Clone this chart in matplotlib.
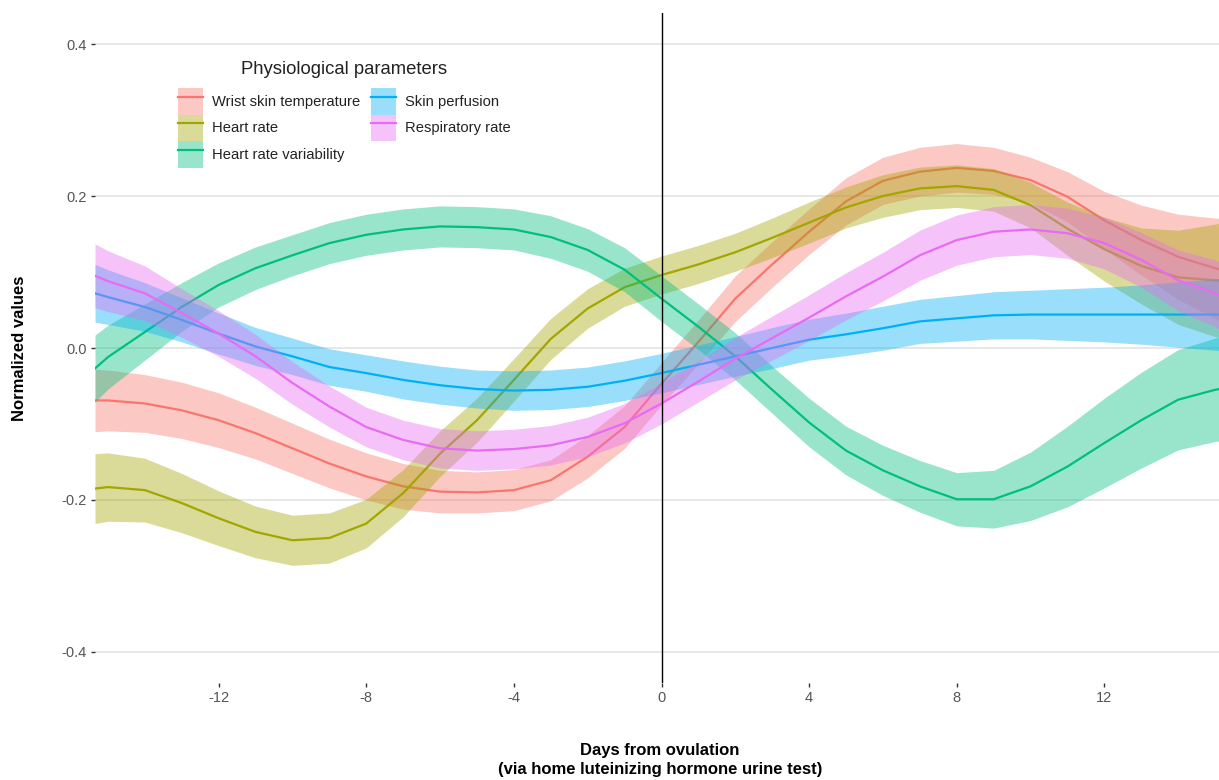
import matplotlib
matplotlib.use("Agg")
import matplotlib.pyplot as plt
from matplotlib.patches import Patch
from matplotlib.lines import Line2D

plt.rcParams['font.family'] = ['Liberation Sans', 'DejaVu Sans']

# ---------------- data ----------------
days = [-15.35, -15, -14, -13, -12, -11, -10, -9, -8, -7, -6, -5, -4, -3, -2, -1, 0,
        1, 2, 3, 4, 5, 6, 7, 8, 9, 10, 11, 12, 13, 14, 15, 15.35]

series_names = ["Wrist skin temperature", "Heart rate", "Heart rate variability",
                "Skin perfusion", "Respiratory rate"]
legend_title = "Physiological parameters"

wrist_temp = [-0.069, -0.069, -0.073, -0.082, -0.095, -0.112, -0.132, -0.152, -0.169, -0.182,
              -0.189, -0.190, -0.187, -0.174, -0.143, -0.104, -0.047, 0.008, 0.065, 0.110,
              0.153, 0.193, 0.220, 0.232, 0.237, 0.233, 0.221, 0.199, 0.168, 0.142, 0.120,
              0.105, 0.100]
wrist_temp_hw = [0.041, 0.040, 0.038, 0.037, 0.036, 0.034, 0.033, 0.032, 0.031, 0.030, 0.028,
                 0.027, 0.027, 0.027, 0.028, 0.028, 0.028, 0.029, 0.030, 0.030, 0.030, 0.031,
                 0.031, 0.032, 0.032, 0.031, 0.030, 0.033, 0.038, 0.046, 0.056, 0.066, 0.070]

heart_rate = [-0.185, -0.183, -0.187, -0.204, -0.224, -0.242, -0.253, -0.250, -0.231, -0.191,
              -0.139, -0.095, -0.042, 0.012, 0.052, 0.080, 0.096, 0.110, 0.126, 0.145,
              0.165, 0.185, 0.200, 0.210, 0.213, 0.208, 0.188, 0.157, 0.130, 0.108, 0.093,
              0.089, 0.089]
heart_rate_hw = [0.046, 0.045, 0.042, 0.039, 0.036, 0.034, 0.033, 0.033, 0.032, 0.031, 0.030,
                 0.029, 0.028, 0.027, 0.026, 0.025, 0.025, 0.025, 0.025, 0.026, 0.027, 0.027,
                 0.028, 0.028, 0.028, 0.028, 0.030, 0.035, 0.042, 0.050, 0.062, 0.074, 0.078]

hrv = [-0.027, -0.012, 0.021, 0.054, 0.083, 0.105, 0.122, 0.138, 0.149, 0.156, 0.160, 0.159,
       0.156, 0.146, 0.129, 0.103, 0.065, 0.028, -0.011, -0.055, -0.098, -0.135, -0.161,
       -0.182, -0.199, -0.199, -0.182, -0.156, -0.125, -0.095, -0.068, -0.055, -0.052]
hrv_hw = [0.044, 0.042, 0.037, 0.032, 0.029, 0.028, 0.027, 0.027, 0.027, 0.027, 0.027, 0.027,
          0.027, 0.028, 0.028, 0.029, 0.030, 0.030, 0.031, 0.031, 0.032, 0.032, 0.033, 0.034,
          0.035, 0.038, 0.045, 0.053, 0.059, 0.063, 0.066, 0.068, 0.069]

skin_perfusion = [0.072, 0.067, 0.054, 0.037, 0.019, 0.002, -0.011, -0.025, -0.033, -0.042,
                  -0.049, -0.054, -0.056, -0.055, -0.051, -0.043, -0.033, -0.022, -0.011,
                  0.000, 0.011, 0.018, 0.026, 0.035, 0.039, 0.043, 0.044, 0.044, 0.044, 0.044,
                  0.044, 0.044, 0.044]
skin_perfusion_hw = [0.038, 0.036, 0.032, 0.029, 0.027, 0.025, 0.024, 0.024, 0.024, 0.025,
                     0.025, 0.025, 0.026, 0.026, 0.026, 0.026, 0.026, 0.026, 0.026, 0.027,
                     0.027, 0.028, 0.029, 0.029, 0.030, 0.031, 0.032, 0.034, 0.036, 0.039,
                     0.043, 0.047, 0.048]

resp_rate = [0.095, 0.088, 0.072, 0.046, 0.019, -0.011, -0.046, -0.077, -0.104, -0.121, -0.132,
             -0.135, -0.133, -0.128, -0.117, -0.099, -0.073, -0.044, -0.014, 0.013, 0.040,
             0.068, 0.094, 0.122, 0.142, 0.153, 0.156, 0.151, 0.138, 0.116, 0.089, 0.072, 0.065]
resp_rate_hw = [0.042, 0.040, 0.036, 0.032, 0.030, 0.029, 0.028, 0.027, 0.026, 0.026, 0.026,
                0.026, 0.026, 0.026, 0.026, 0.026, 0.027, 0.027, 0.028, 0.029, 0.030, 0.031,
                0.032, 0.033, 0.033, 0.033, 0.033, 0.033, 0.034, 0.036, 0.040, 0.044, 0.045]

colors = ["#F8766D", "#A3A500", "#00BF7D", "#00B0F6", "#E76BF3"]

x_ticks = [-12, -8, -4, 0, 4, 8, 12]
y_ticks = [-0.4, -0.2, 0.0, 0.2, 0.4]
y_ticklabels = ["-0.4", "-0.2", "0.0", "0.2", "0.4"]

# ---------------- figure ----------------
W, H = 1219, 780
fig = plt.figure(figsize=(W / 100, H / 100), dpi=100)
px_left, px_right, px_top, px_bottom = 95, 1228, 13, 683
ax = fig.add_axes([px_left / W, 1 - px_bottom / H, (px_right - px_left) / W,
                   (px_bottom - px_top) / H])

all_vals = [wrist_temp, heart_rate, hrv, skin_perfusion, resp_rate]
all_hw = [wrist_temp_hw, heart_rate_hw, hrv_hw, skin_perfusion_hw, resp_rate_hw]

z = 3
for vals, hw, col in zip(all_vals, all_hw, colors):
    lo = [v - h for v, h in zip(vals, hw)]
    hi = [v + h for v, h in zip(vals, hw)]
    ax.fill_between(days, lo, hi, color=col, alpha=0.4, linewidth=0, zorder=z)
    ax.plot(days, vals, color=col, lw=1.6, zorder=z + 1, solid_joinstyle='round')
    z += 2

ax.axvline(0, color='black', lw=1.0, zorder=20)

ax.set_xlim(-15.35, 15.35)
ax.set_ylim(-0.4408, 0.4408)
ax.set_xticks(x_ticks)
ax.set_xticklabels([str(t) for t in x_ticks])
ax.set_yticks(y_ticks)
ax.set_yticklabels(y_ticklabels)
ax.yaxis.grid(True, color='#E0E0E0', lw=1.1, zorder=0)
ax.xaxis.grid(False)
ax.set_axisbelow(True)
for s in ax.spines.values():
    s.set_visible(False)
ax.tick_params(axis='both', length=3, width=1, color='#333333', labelcolor='#555555',
               labelsize=10.5, pad=3)

fig.text(20 / W, 1 - 348 / H, "Normalized values", rotation=90, ha='center', va='center',
         fontsize=12, fontweight='bold', color='black')
fig.text(660 / W, 1 - 760 / H, "Days from ovulation\n(via home luteinizing hormone urine test)",
         ha='center', va='center', fontsize=12, fontweight='bold', color='black',
         linespacing=1.35)

# legend
fig.text(344 / W, 1 - 70 / H, legend_title, ha='center', va='center', fontsize=13.3,
         color='#222222')
handles = []
for col in colors:
    handles.append((Patch(facecolor=col, alpha=0.4, edgecolor='none'),
                    Line2D([], [], color=col, lw=1.6)))
leg = fig.legend(handles, series_names, ncol=2, loc='upper left',
                 bbox_to_anchor=(178 / W, 1 - 88 / H), frameon=False,
                 fontsize=10.6, handlelength=1.7, handleheight=2.4, labelspacing=0.0,
                 handletextpad=0.6, columnspacing=0.75, borderpad=0.0, borderaxespad=0.0)
for t in leg.get_texts():
    t.set_color('#222222')

fig.savefig("out.png", dpi=100)
